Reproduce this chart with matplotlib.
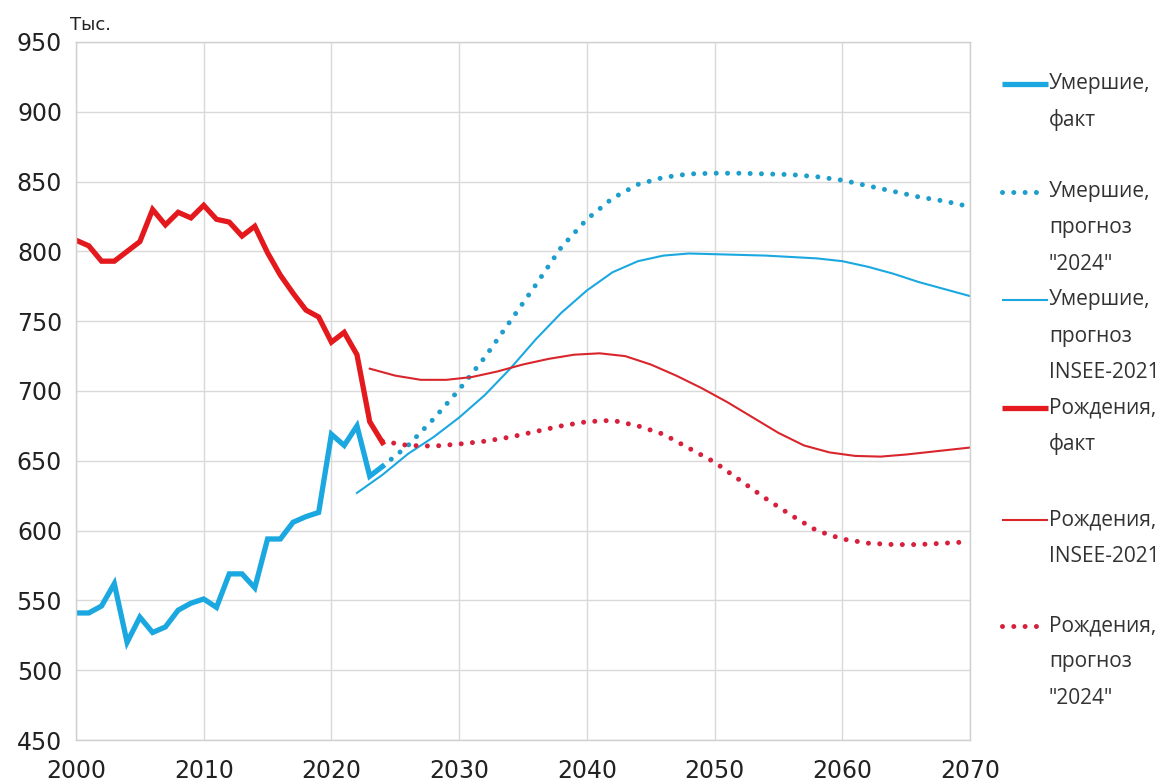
import matplotlib
matplotlib.use("Agg")
import matplotlib.pyplot as plt
from matplotlib.lines import Line2D

# Факт, тыс.
years_fact = list(range(2000, 2025))
deaths_fact = [541, 541, 546, 562, 520, 538, 527, 531, 543, 548, 551, 545, 569,
               569, 559, 594, 594, 606, 610, 613, 669, 661, 675, 639, 646]
births_fact = [808, 804, 793, 793, 800, 807, 830, 819, 828, 824, 833, 823, 821,
               811, 818, 799, 783, 770, 758, 753, 735, 742, 726, 678, 663]

# Умершие, прогноз INSEE-2021
years_d_insee = [2022, 2024, 2026, 2028, 2030, 2032, 2034, 2036, 2038, 2040, 2042,
                 2044, 2046, 2048, 2050, 2052, 2054, 2056, 2058, 2060, 2062, 2064,
                 2066, 2068, 2070]
deaths_insee = [627, 640, 655, 667, 681, 697, 716, 737, 756, 772, 785, 793, 797,
                798.5, 798, 797.5, 797, 796, 795, 793, 789, 784, 778, 773, 768]

# Умершие, прогноз "2024"
years_d_2024 = [2024, 2026, 2028, 2030, 2032, 2034, 2036, 2038, 2040, 2042, 2044,
                2046, 2048, 2050, 2052, 2054, 2056, 2058, 2060, 2062, 2064, 2066,
                2068, 2070]
deaths_2024 = [646, 661, 680, 701, 724, 750, 776, 803, 823, 838, 848, 853, 855.5,
               856, 856, 855.5, 855, 853.5, 851, 847, 843, 839, 836, 832]

# Рождения, INSEE-2021
years_b_insee = [2023, 2025, 2027, 2029, 2031, 2033, 2035, 2037, 2039, 2041, 2043,
                 2045, 2047, 2049, 2051, 2053, 2055, 2057, 2059, 2061, 2063, 2065,
                 2067, 2069, 2070]
births_insee = [716, 711, 708, 708, 710, 714, 719, 723, 726, 727, 725, 719, 711,
                702, 692, 681, 670, 661, 656, 653.5, 653, 654.5, 656.5, 658.5, 659.5]

# Рождения, прогноз "2024"
years_b_2024 = [2024, 2026, 2028, 2030, 2032, 2034, 2036, 2038, 2040, 2042, 2044,
                2046, 2048, 2050, 2052, 2054, 2056, 2058, 2060, 2062, 2064, 2066,
                2068, 2070]
births_2024 = [664, 661, 660.5, 662, 664, 667, 671, 675, 678, 679, 675, 669, 659,
               649, 636, 623, 611, 600, 594, 591, 590, 590, 591, 592]

x_ticks = [2000, 2010, 2020, 2030, 2040, 2050, 2060, 2070]
y_ticks = [450, 500, 550, 600, 650, 700, 750, 800, 850, 900, 950]

blue = "#1BA8E0"
blue_dot = "#1E9ECC"
red = "#E3191D"
red_thin = "#D8262C"
red_dot = "#D6203C"
dots = (0, (0.001, 2.26))

W, H = 1176, 782
fig = plt.figure(figsize=(W / 100, H / 100), dpi=100)
ax = fig.add_axes([76 / W, 1 - 740 / H, 894 / W, 698 / H])

ax.plot(years_d_insee, deaths_insee, color=blue, lw=1.5)
ax.plot(years_d_2024, deaths_2024, color=blue_dot, lw=3.6, linestyle=dots,
        dash_capstyle="round")
ax.plot(years_b_insee, births_insee, color=red_thin, lw=1.5)
ax.plot(years_b_2024, births_2024, color=red_dot, lw=3.6, linestyle=dots,
        dash_capstyle="round")
ax.plot(years_fact, deaths_fact, color=blue, lw=3.8, solid_joinstyle="miter")
ax.plot(years_fact, births_fact, color=red, lw=3.8, solid_joinstyle="miter")

ax.set_xlim(2000, 2070)
ax.set_ylim(450, 950)
ax.set_xticks(x_ticks)
ax.set_yticks(y_ticks)
ax.grid(True, color="#D9D9D9", lw=1)
ax.set_axisbelow(True)
for s in ax.spines.values():
    s.set_color("#D0D0D0")
    s.set_linewidth(1)
ax.tick_params(length=0)
ax.tick_params(axis="y", pad=10, labelsize=17, labelcolor="#222222")
ax.tick_params(axis="x", pad=14, labelsize=17, labelcolor="#222222")
for lab in ax.get_xticklabels():
    lab.set_family(["Liberation Sans Narrow", "DejaVu Sans"])

fig.text(70 / W, 1 - 25 / H, "Тыс.", fontsize=13, va="center", ha="left",
         color="#222222")

# легенда справа, как в Excel
legend = [
    (["Умершие,", "факт"], blue, 3.8, "-", 84),
    (["Умершие,", "прогноз", "\"2024\""], blue_dot, 3.6, dots, 192),
    (["Умершие,", "прогноз", "INSEE-2021"], blue, 1.5, "-", 300),
    (["Рождения,", "факт"], red, 3.8, "-", 408),
    (["Рождения,", "INSEE-2021"], red_thin, 1.5, "-", 520),
    (["Рождения,", "прогноз", "\"2024\""], red_dot, 3.6, dots, 626),
]
for lines, col, lw, ls, yp in legend:
    yf = 1 - yp / H
    x1 = 1040 if ls == dots else 1048
    fig.add_artist(Line2D([1002 / W, x1 / W], [yf, yf], transform=fig.transFigure,
                          color=col, lw=lw, linestyle=ls, dash_capstyle="round",
                          solid_capstyle="butt"))
    for i, t in enumerate(lines):
        fig.text(1049 / W, 1 - (yp + i * 36) / H, t, fontsize=15,
                 family="Open Sans", va="center", ha="left", color="#333333")

fig.savefig("out.png", dpi=100)
